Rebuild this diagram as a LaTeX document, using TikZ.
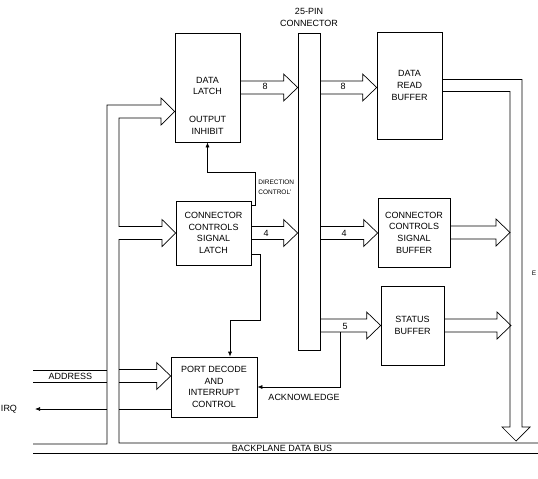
\documentclass[tikz,border=0pt]{standalone}
\usepackage{fontspec}
\setmainfont{Liberation Sans}
\usetikzlibrary{positioning, calc, arrows.meta}
\tikzstyle{Sig} = [
    -{Latex[length=5pt, width=4pt]}
]
\newcommand{\widearrow}[2]{%
    \draw ($(#1)+(0,-6.5)$) -- ($(#2)+(-14,-6.5)$) -- ($(#2)+(-14,-13.5)$)
        -- (#2) -- ($(#2)+(-14,13.5)$) -- ($(#2)+(-14,6.5)$) -- ($(#1)+(0,6.5)$);%
}

\begin{document}
\begin{tikzpicture}[
x=1pt, y=-1pt, line width=0.7pt,
block/.style={
    draw,
    rectangle,
    align=center,
    inner sep=1pt,
    font=\fontsize{9}{11.7}\selectfont
    },
lbl/.style={
    inner sep=1pt,
    font=\fontsize{9}{11.7}\selectfont
    },
small/.style={
    inner sep=0pt,
    align=left,
    font=\fontsize{6.5}{10}\selectfont
    }
]
\useasboundingbox (0,0) rectangle (538,479);

% blocks
\node [block, minimum width=65pt, minimum height=109pt] (dl) at (207.5,87.5) {};
\node [lbl, align=center] at (207.5,86) {DATA\\LATCH};
\node [lbl, align=center] at (207.5,125.5) {OUTPUT\\INHIBIT};

\node [block, minimum width=22pt, minimum height=317pt] (conn) at (309,191.5) {};
\node [lbl, align=center, above=5pt of conn] {25-PIN\\CONNECTOR};

\node [block, minimum width=65pt, minimum height=107pt] (drb) at (409.5,85.5) {DATA\\READ\\BUFFER};
\node [block, minimum width=75pt, minimum height=64pt] (csl) at (213.5,233) {CONNECTOR\\CONTROLS\\SIGNAL\\LATCH};
\node [block, minimum width=72pt, minimum height=69pt] (csb) at (414,232.5) {CONNECTOR\\CONTROLS\\SIGNAL\\BUFFER};
\node [block, minimum width=63pt, minimum height=79pt] (sb) at (412.5,325.5) {STATUS\\BUFFER};
\node [block, minimum width=86pt, minimum height=60pt] (pd) at (214,387) {PORT DECODE\\AND\\INTERRUPT\\CONTROL};

% wide arrows
\coordinate (c1) at (conn.west |- dl.east);
\coordinate (c2) at (conn.east |- dl.east);
\coordinate (c3) at (drb.west |- dl.east);
\coordinate (c4) at (conn.west |- csl.east);
\coordinate (c5) at (conn.east |- csl.east);
\coordinate (c6) at (csb.west |- csl.east);
\coordinate (c7) at (conn.east |- sb.west);
\coordinate (out1) at (510,232.5);
\coordinate (out2) at (511,325.5);
\widearrow{dl.east}{c1}
\widearrow{c2}{c3}
\widearrow{csl.east}{c4}
\widearrow{c5}{c6}
\widearrow{csb.east}{out1}
\widearrow{c7}{sb.west}
\widearrow{sb.east}{out2}

\node [lbl] at (265,86.5) {8};
\node [lbl] at (343,86.5) {8};
\node [lbl] at (266,233) {4};
\node [lbl] at (344,233) {4};
\node [lbl] at (345,326) {5};

% backplane bus
\coordinate (dlin) at ([yshift=-24pt]dl.west);
\coordinate (bustip) at (516,441);
\draw (33,444) -- (107,444) -- (107,105) -- (161,105) -- (161,98) -- (dlin)
    -- (161,125) -- (161,118) -- (119,118) -- (119,226.5) -- (162,226.5)
    -- (162,219.5) -- (csl.west) -- (162,246.5) -- (162,239.5) -- (119,239.5)
    -- (119,443) -- (538,443);
\draw (33,453) -- (538,453);
\draw ([yshift=6pt]drb.east) -- (522,79.5) -- (522,427) -- (530,427) -- (bustip)
    -- (502,427) -- (510,427) -- (510,91.5) -- ([yshift=-6pt]drb.east);
\node [lbl] at (282,448) {BACKPLANE DATA BUS};
\node [inner sep=0pt, font=\fontsize{6.5}{8}\selectfont] at (534,273) {E};

% address and irq
\draw (33,370) -- (107,370) (33,382) -- (107,382);
\node [lbl] at (70.5,376.5) {ADDRESS};
\coordinate (addr) at (119,376);
\coordinate (pdin) at ([yshift=11pt]pd.west);
\widearrow{addr}{pdin}

\coordinate (irq) at (35,409);
\draw ([yshift=-22pt]pd.west) -- (119,409);
\draw [Sig] (107,409) -- (irq);
\node [lbl] at (9,409) {IRQ};

% control lines
\coordinate (dc) at (255,172);
\draw [Sig] ([yshift=-5pt]csl.north east) -| (dc) -| (dl.south);
\node [small, anchor=west] at (258,187) {DIRECTION\\CONTROL'};

\coordinate (pc) at (260,320);
\coordinate (pdtop) at ([xshift=16pt]pd.north);
\draw [Sig] ([yshift=11pt]csl.south east) -| (pc) -| (pdtop);

\coordinate (ack) at (340,332);
\draw [Sig] (ack) |- (pd.east);
\node [lbl] at (304,397) {ACKNOWLEDGE};

\end{tikzpicture}
\end{document}
